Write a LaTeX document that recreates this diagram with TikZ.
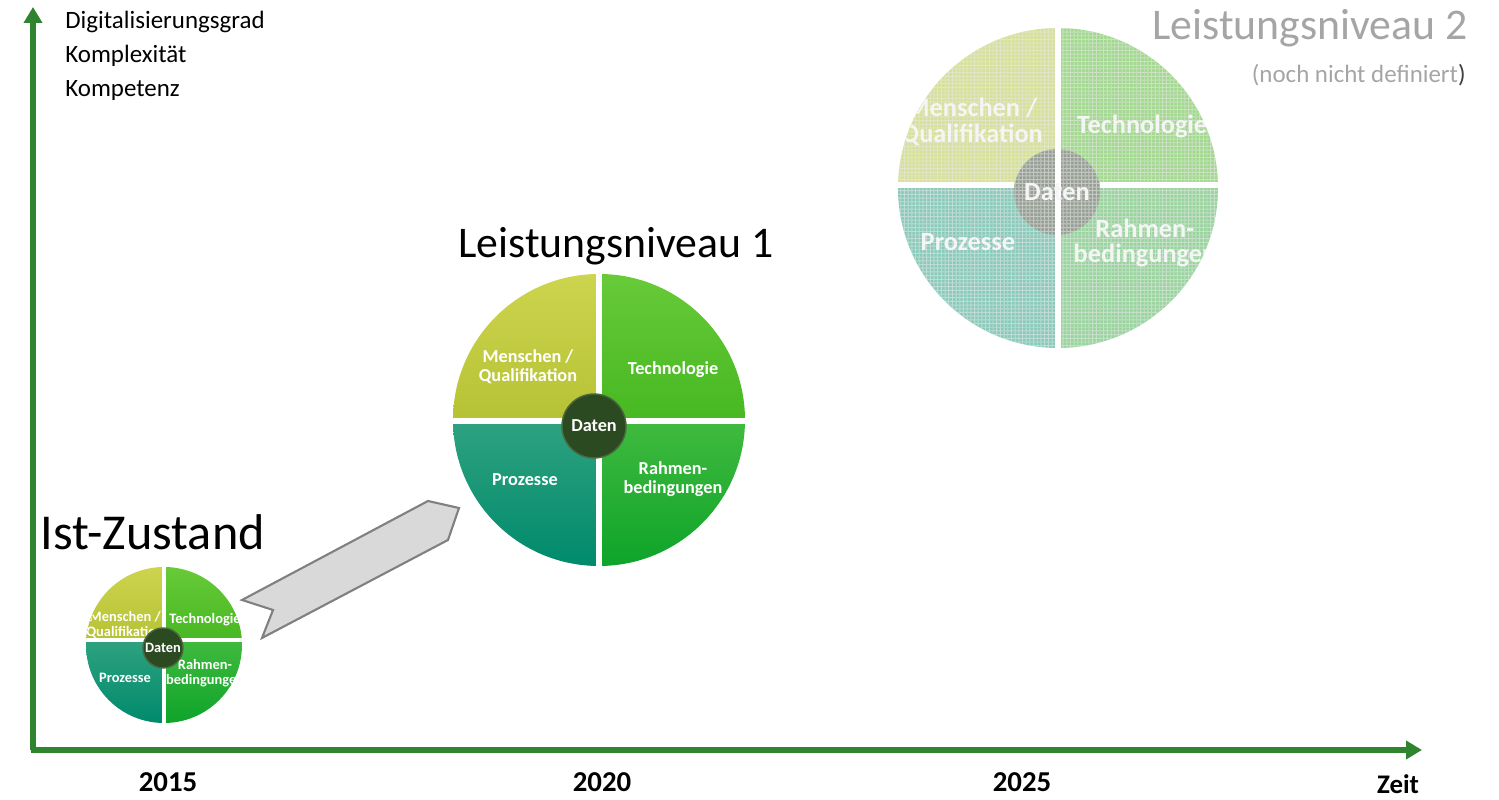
\documentclass[tikz,border=0pt]{standalone}
\usepackage{fontspec}
\setmainfont{Carlito}
\usetikzlibrary{arrows.meta,patterns}

% colours of the four fields and the core
\definecolor{axisgreen}{RGB}{48,132,48}
\definecolor{menTop}{RGB}{205,212,78}
\definecolor{menBot}{RGB}{182,194,52}
\definecolor{tecTop}{RGB}{104,202,56}
\definecolor{tecBot}{RGB}{70,184,34}
\definecolor{proTop}{RGB}{46,162,128}
\definecolor{proBot}{RGB}{0,138,108}
\definecolor{rahTop}{RGB}{64,186,62}
\definecolor{rahBot}{RGB}{14,164,42}
\definecolor{datFill}{RGB}{44,74,34}
\definecolor{datRim}{RGB}{74,104,60}
% faded colours of the future level
\definecolor{fmen}{RGB}{214,224,150}
\definecolor{ftec}{RGB}{160,216,140}
\definecolor{fpro}{RGB}{136,202,186}
\definecolor{frah}{RGB}{150,212,156}
\definecolor{fdat}{RGB}{150,158,148}
\definecolor{ghost}{RGB}{165,165,165}
\definecolor{arrowFill}{RGB}{217,217,217}
\definecolor{arrowLine}{RGB}{128,128,128}

% fine white raster laid over the future level
\pgfdeclarepatternformonly{halftone}{\pgfqpoint{-0.1pt}{-0.1pt}}{\pgfqpoint{2.2pt}{2.2pt}}{\pgfqpoint{2.1pt}{2.1pt}}{%
  \pgfpathrectangle{\pgfqpoint{0pt}{0pt}}{\pgfqpoint{2.1pt}{0.55pt}}%
  \pgfpathrectangle{\pgfqpoint{0pt}{0pt}}{\pgfqpoint{0.55pt}{2.1pt}}%
  \pgfusepath{fill}}

\begin{document}
\begin{tikzpicture}[x=0.02cm,y=0.02cm,
  axisline/.style={draw=axisgreen,line width=2.9pt,
    -{Triangle[width=0.36cm,length=0.32cm]}},
  lbl/.style={text=white,font=\bfseries,align=center,inner sep=0pt},
  gap/.style={draw=white,line width=#1},
  datencirc/.style={circle,fill=datFill,draw=datRim,line width=0.8pt,
    text=white,font=\bfseries,inner sep=0pt},
  year/.style={font=\bfseries\fontsize{16.4pt}{18pt}\selectfont,anchor=base,inner sep=0pt},
  title/.style={font=\fontsize{25pt}{28pt}\selectfont,anchor=base,inner sep=0pt},
  axlabel/.style={anchor=base west,inner sep=0pt,font=\fontsize{14.2pt}{17pt}\selectfont}]
\useasboundingbox (0,0) rectangle (1499,800);

% ---------- axes ----------
\coordinate (O) at (33,50);
\coordinate (ytip) at (33,793);
\coordinate (xtip) at (1422,50);
\draw[axisline] (O) -- (ytip);
\draw[axisline] ([xshift=-1.4pt]O) -- (xtip);

\node[axlabel] (ylab1) at (65,771) {Digitalisierungsgrad};
\node[axlabel] (ylab2) at (65,737) {Komplexität};
\node[axlabel] (ylab3) at (65,703) {Kompetenz};

\node[year] (y2015) at (168,8) {2015};
\node[year] (y2020) at (602,8) {2020};
\node[year] (y2025) at (1022,8) {2025};
\node[year,font=\bfseries\fontsize{15.3pt}{18pt}\selectfont] (zeit) at (1398,6) {Zeit};

% ---------- current state ----------
\node[title,anchor=base west,font=\fontsize{28.6pt}{32pt}\selectfont] (ist) at (40,250) {Ist-Zustand};
\begin{scope}
  \clip (164,155) circle (78);
  \shade[top color=menTop,bottom color=menBot] (86,160) rectangle (164,233);
  \shade[top color=tecTop,bottom color=tecBot] (164,160) rectangle (242,233);
  \shade[top color=proTop,bottom color=proBot] (86,77) rectangle (164,160);
  \shade[top color=rahTop,bottom color=rahBot] (164,77) rectangle (242,160);
  \draw[gap=2.3pt] (164,77) -- (164,233);
  \draw[gap=2.3pt] (86,160) -- (242,160);
  \begin{scope}[every node/.append style={lbl,font=\bfseries\fontsize{8.2pt}{8.4pt}\selectfont}]
    \node (s-men) at (125,175) {Menschen /\\Qualifikation};
    \node (s-tec) at (205,180) {Technologie};
    \node (s-pro) at (125,122) {Prozesse};
    \node (s-rah) at (205,127) {Rahmen-\\bedingungen};
  \end{scope}
\end{scope}
\node[datencirc,minimum size=0.8cm,font=\bfseries\fontsize{8.2pt}{9pt}\selectfont] (s-dat) at (163,152) {Daten};

% ---------- transition arrow ----------
\coordinate (a1) at (242,200);
\coordinate (a2) at (428,299);
\coordinate (a3) at (459,292);
\coordinate (a4) at (448,260);
\coordinate (a5) at (262,162);
\coordinate (a6) at (273,190);
\draw[fill=arrowFill,draw=arrowLine,line width=1.2pt,line join=miter]
  (a1) -- (a2) -- (a3) -- (a4) -- (a5) -- (a6) -- cycle;

% ---------- level 1 ----------
\node[title,font=\fontsize{24.9pt}{28pt}\selectfont] (lv1) at (616,542) {Leistungsniveau 1};
\begin{scope}
  \clip (599,380) circle (146);
  \shade[top color=menTop,bottom color=menBot] (453,379) rectangle (599,526);
  \shade[top color=tecTop,bottom color=tecBot] (599,379) rectangle (745,526);
  \shade[top color=proTop,bottom color=proBot] (453,234) rectangle (599,379);
  \shade[top color=rahTop,bottom color=rahBot] (599,234) rectangle (745,379);
  \draw[gap=3pt] (599,234) -- (599,526);
  \draw[gap=3pt] (453,379) -- (745,379);
  \begin{scope}[every node/.append style={lbl,font=\bfseries\fontsize{10.4pt}{10.8pt}\selectfont}]
    \node (m-men) at (528,433) {Menschen /\\Qualifikation};
    \node (m-tec) at (673,430) {Technologie};
    \node (m-pro) at (525,320) {Prozesse};
    \node (m-rah) at (673,321) {Rahmen-\\bedingungen};
  \end{scope}
\end{scope}
\node[datencirc,minimum size=1.28cm,font=\bfseries\fontsize{10.4pt}{11pt}\selectfont] (m-dat) at (594,374) {Daten};

% ---------- level 2 (not yet defined) ----------
\node[title,anchor=base east,text=ghost,font=\fontsize{24.9pt}{28pt}\selectfont] (lv2) at (1468,760) {Leistungsniveau 2};
\node[title,anchor=base east,font=\fontsize{14.2pt}{16pt}\selectfont] (lv2note) at (1466,717)
  {\textcolor{ghost}{(noch nicht definiert}\textcolor{black!75}{)}};
\begin{scope}
  \clip (1058,612) circle (160);
  \fill[fmen] (898,615) rectangle (1058,772);
  \fill[ftec] (1058,615) rectangle (1218,772);
  \fill[fpro] (898,452) rectangle (1058,615);
  \fill[frah] (1058,452) rectangle (1218,615);
  \fill[fdat] (1057,608) circle (43);
  \fill[pattern=halftone,pattern color=white!92!black,opacity=0.55] (898,452) rectangle (1218,772);
  \draw[gap=3pt] (1058,452) -- (1058,772);
  \draw[gap=3pt] (898,615) -- (1014,615);
  \draw[gap=3pt] (1100,615) -- (1218,615);
  \begin{scope}[every node/.append style={lbl,text=white!96!black,font=\bfseries\fontsize{15pt}{14.4pt}\selectfont}]
    \node (l-men) at (972,678) {Menschen /\\Qualifikation};
    \node (l-tec) at (1142,673) {Technologie};
    \node (l-pro) at (968,558) {Prozesse};
    \node (l-rah) at (1145,557) {Rahmen-\\bedingungen};
    \node (l-dat) at (1057,608) {Daten};
  \end{scope}
\end{scope}
\end{tikzpicture}
\end{document}
